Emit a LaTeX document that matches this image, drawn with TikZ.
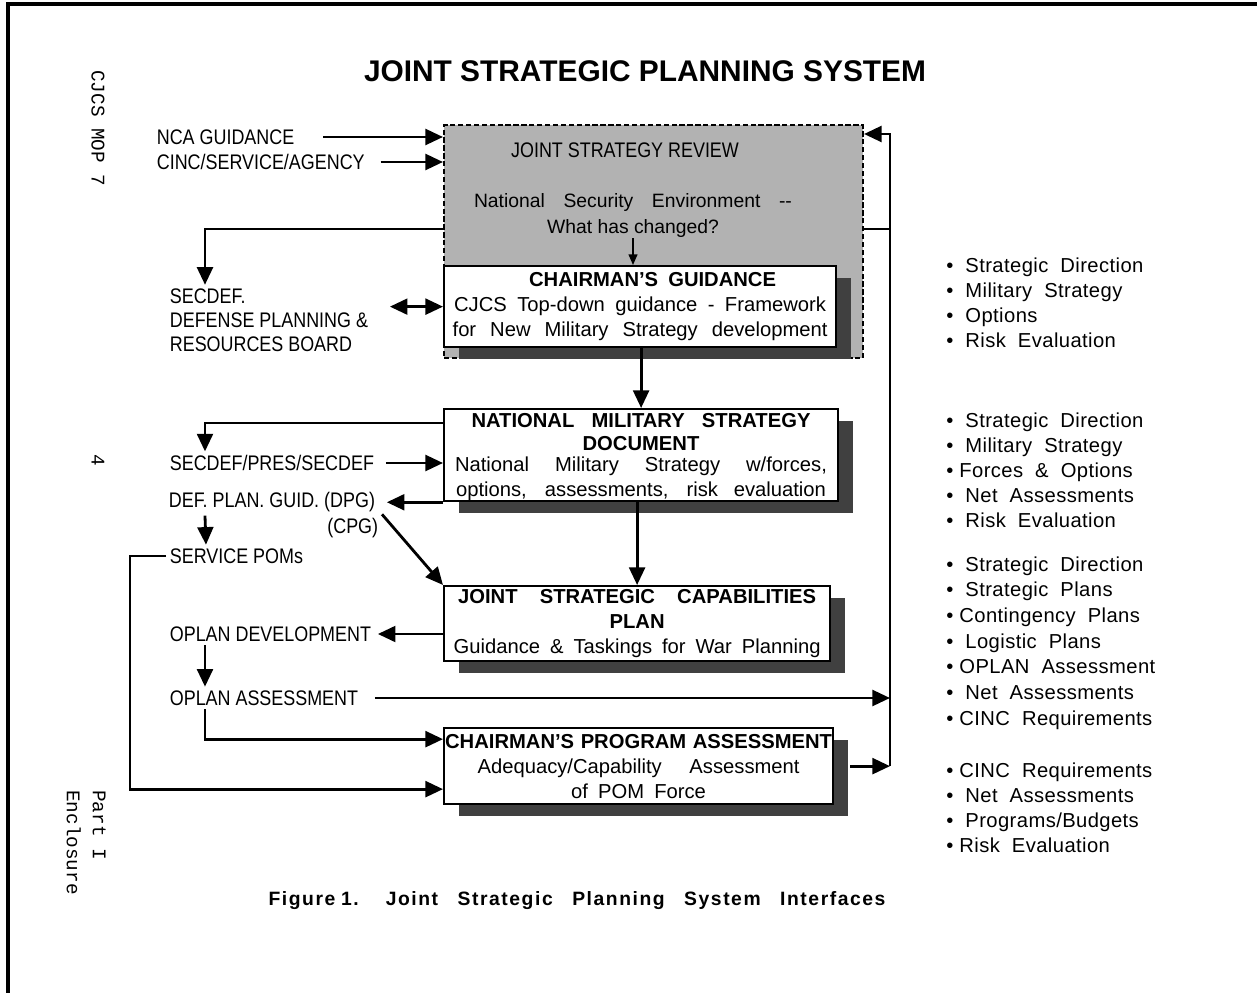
\documentclass[tikz,border=0pt]{standalone}
\usepackage{fontspec}
\setmainfont{Liberation Sans}
\newfontfamily\narrowfont[FakeStretch=0.85]{Liberation Sans}
\newfontfamily\listfont[LetterSpace=2]{Liberation Sans}
\newfontfamily\capfont[LetterSpace=8]{Liberation Sans}
\newfontfamily\marginfont{Liberation Mono}
\newcommand\widesp[1]{\spaceskip=#1em\relax}
\newcommand\spreadline[2]{\makebox[#1][s]{\spaceskip=0.3em plus 1fil\relax #2}}
\usetikzlibrary{arrows.meta, positioning, calc, shadows}
\tikzset{
     flow/.style={line width=1.6pt, -{Triangle[length=10pt,width=9pt]}},
     plain line/.style={line width=1.6pt},
     both ways/.style={line width=1.6pt, {Triangle[length=10pt,width=9pt]}-{Triangle[length=10pt,width=9pt]}},
     thin flow/.style={line width=0.8pt, -{Triangle[length=6pt,width=5pt]}},
     box text/.style={font={\fontsize{11.5}{14.2}\selectfont\widesp{0.5}}, align=center, inner sep=0pt},
     stage/.style={draw, line width=1.3pt, fill=white, anchor=north west, inner sep=0pt, box text,
          drop shadow={shadow xshift=0.3cm, shadow yshift=-0.24cm, fill=black!75, opacity=1}},
     side label/.style={font={\narrowfont\fontsize{12}{13.6}\selectfont}, anchor=west, inner sep=2pt},
     bullets/.style={font={\listfont\fontsize{11.5}{14.2}\selectfont}, align=left, anchor=west, inner sep=0pt},
     margin text/.style={font={\marginfont\fontsize{11}{14.8}\selectfont}, rotate=-90, inner sep=0pt},
}

\begin{document}
\begin{tikzpicture}[x=0.02cm, y=-0.02cm]
\useasboundingbox (0,0) rectangle (1257,993);
\draw[line width=1.8pt] (8,993) -- (8,4) -- (1257,4);

% page margin
\node[margin text, anchor=west] (mop) at (98,70) {CJCS MOP 7};
\node[margin text] (pagenum) at (98,460) {4};
\node[margin text, anchor=north west, align=left] (encl) at (106,790) {Part I\\Enclosure};

\node[font={\bfseries\fontsize{17}{20}\selectfont}] (title) at (645,71) {JOINT STRATEGIC PLANNING SYSTEM};

% review box
\node[draw, dash pattern=on 3pt off 1.5pt, line width=1.2pt, fill=black!30, anchor=north west,
     minimum width=8.38cm, minimum height=4.66cm] (jsr) at (443,124) {};
\node[side label, anchor=center] (jsrtitle) at (625,150) {JOINT STRATEGY REVIEW};
\node[box text, font={\fontsize{11}{14.8}\selectfont}] (jsrtext) at (633,216)
     {\spreadline{6.36cm}{National Security Environment -{}-}\\What has changed?};

% stages
\node[stage, minimum width=7.84cm, minimum height=1.62cm] (cg) at (443,265)
     {\hspace{0.5cm}\textbf{CHAIRMAN'S GUIDANCE}\\\spreadline{7.44cm}{CJCS Top-down guidance - Framework}\\\spreadline{7.5cm}{for New Military Strategy development}};
\node[stage, minimum width=7.88cm, minimum height=1.84cm] (nms) at (443,408) {};
\node[box text, font={\bfseries\fontsize{11.5}{13.6}\selectfont}] (nmstitle) at (641,432)
     {\spreadline{6.78cm}{NATIONAL MILITARY STRATEGY}\\DOCUMENT};
\node[box text] (nmstext) at (641,479)
     {\spreadline{7.44cm}{National Military Strategy w/forces,}\\\spreadline{7.4cm}{options, assessments, risk evaluation}};
\node[stage, minimum width=7.72cm, minimum height=1.5cm] (jscp) at (443,585)
     {\spreadline{7.16cm}{\bfseries JOINT STRATEGIC CAPABILITIES}\\\textbf{PLAN}\\\spreadline{7.34cm}{Guidance \& Taskings for War Planning}};
\node[stage, minimum width=7.78cm, minimum height=1.52cm] (cpa) at (443,727)
     {\spreadline{7.74cm}{\bfseries CHAIRMAN'S PROGRAM ASSESSMENT}\\\spreadline{6.44cm}{Adequacy/Capability Assessment}\\of POM Force};

% left side
\node[side label] (nca) at (153,137) {NCA GUIDANCE};
\node[side label] (cinc) at (153,162) {CINC/SERVICE/AGENCY};
\node[side label, align=left] (secdef) at (166,320) {SECDEF.\\DEFENSE PLANNING \&\\RESOURCES BOARD};
\node[side label] (secpres) at (166,463) {SECDEF/PRES/SECDEF};
\node[side label] (dpg) at (165,502) {DEF. PLAN. GUID. (DPG)};
\node[side label, anchor=east] (cpg) at (382,528) {(CPG)};
\node[side label] (poms) at (166,556) {SERVICE POMs};
\node[side label] (opdev) at (166,634) {OPLAN DEVELOPMENT};
\node[side label] (opassess) at (166,698) {OPLAN ASSESSMENT};
\coordinate (rail) at (890,0);

% right side
\node[bullets] (cglist) at (946,303) {\textbullet\ \ Strategic\ \ Direction\\\textbullet\ \ Military\ \ Strategy\\\textbullet\ \ Options\\\textbullet\ \ Risk\ \ Evaluation};
\node[bullets] (nmslist) at (946,470) {\textbullet\ \ Strategic\ \ Direction\\\textbullet\ \ Military\ \ Strategy\\\textbullet\ Forces\ \ \&\ \ Options\\\textbullet\ \ Net\ \ Assessments\\\textbullet\ \ Risk\ \ Evaluation};
\node[bullets, font={\listfont\fontsize{11.5}{14.6}\selectfont}] (jscplist) at (946,643) {\textbullet\ \ Strategic\ \ Direction\\\textbullet\ \ Strategic\ \ Plans\\\textbullet\ Contingency\ \ Plans\\\textbullet\ \ Logistic\ \ Plans\\\textbullet\ OPLAN\ \ Assessment\\\textbullet\ \ Net\ \ Assessments\\\textbullet\ CINC\ \ Requirements};
\node[bullets] (cpalist) at (946,808) {\textbullet\ CINC\ \ Requirements\\\textbullet\ \ Net\ \ Assessments\\\textbullet\ \ Programs/Budgets\\\textbullet\ Risk\ \ Evaluation};

\node[font={\capfont\bfseries\fontsize{11}{13}\selectfont}] (caption) at (577,901)
     {\spreadline{12.34cm}{\mbox{Figure 1.}\hspace{0.15cm} Joint Strategic Planning System Interfaces}};

% connectors
\draw[flow] ([xshift=0.5cm]nca.east) -- (nca.east -| jsr.west);
\draw[flow] ([xshift=0.24cm]cinc.east) -- (cinc.east -| jsr.west);
\draw[flow] (jsr.west |- 0,229) -| ([xshift=0.78cm]secdef.north west);
\draw[both ways] ([xshift=0.36cm]secdef.east |- cg.west) -- (cg.west);
\draw[thin flow] (jsrtext.south) -- (jsrtext.south |- cg.north);
\draw[flow] (cg.south -| nms.north) -- (nms.north);
\draw[flow] (nms.west |- 0,423) -| ([xshift=0.78cm]secpres.north west);
\draw[flow] ([xshift=0.16cm]secpres.east) -- (secpres.east -| nms.west);
\draw[flow] (nms.south west) -- ([xshift=0.16cm]dpg.east |- nms.south west);
\draw[flow] ([xshift=0.8cm]dpg.south west) -- ([xshift=0.8cm]poms.north west);
\draw[flow] (cpg.north east) -- (jscp.north west);
\draw[flow] (nms.south -| jscp.north) -- (jscp.north);
\draw[flow] (poms.west) -- ++(-0.72cm,0) |- ([yshift=-0.46cm]cpa.west);
\draw[flow] (opdev.east -| jscp.west) -- ([xshift=0.06cm]opdev.east);
\draw[flow] ([xshift=0.78cm]opdev.south west) -- ([xshift=0.78cm]opassess.north west);
\draw[flow] ([xshift=0.26cm]opassess.east) -- (opassess.east -| rail);
\draw[flow] ([xshift=0.78cm]opassess.south west) |- ([yshift=0.54cm]cpa.west);
\draw[flow] ([xshift=0.32cm]cpa.east) -- (cpa.east -| rail);
\draw[flow] (cpa.east -| rail) |- ([yshift=-0.2cm]jsr.north east);
\draw[plain line] (jsr.east |- 0,229) -- (rail |- 0,229);

\end{tikzpicture}
\end{document}
